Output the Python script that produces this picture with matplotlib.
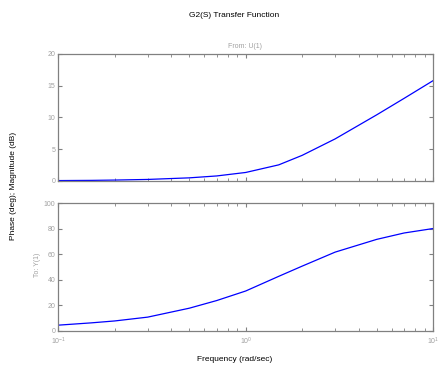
import matplotlib
matplotlib.use('Agg')
import matplotlib.pyplot as plt

plt.rcParams['font.family'] = ['Liberation Sans', 'DejaVu Sans']

frecuencia = [0.1, 0.15, 0.2, 0.3, 0.5, 0.7, 1.0, 1.5, 2.0, 3.0, 5.0, 7.0, 10.0]
magnitud_db = [0.02, 0.05, 0.1, 0.2, 0.45, 0.75, 1.3, 2.5, 4.0, 6.6, 10.4, 13.0, 15.8]
fase_deg = [4.2, 6.0, 7.5, 10.5, 17.5, 23.5, 31.0, 42.5, 50.5, 61.5, 71.5, 76.5, 80.0]

gris = '#808080'
gris_txt = '#a0a0a0'

fig = plt.figure(figsize=(4.38, 3.69), dpi=100)
ax1 = fig.add_axes([0.133, 0.5103, 0.856, 0.3434])
ax2 = fig.add_axes([0.133, 0.1043, 0.856, 0.3455], sharex=ax1)

# Magnitud
ax1.semilogx(frecuencia, magnitud_db, color='b', lw=0.9)
ax1.set_ylim(0, 20)
ax1.set_yticks([0, 5, 10, 15, 20])

# Fase
ax2.semilogx(frecuencia, fase_deg, color='b', lw=0.9)
ax2.set_ylim(0, 100)
ax2.set_yticks([0, 20, 40, 60, 80, 100])
ax2.set_xlim(0.1, 10)

for ax in (ax1, ax2):
    for s in ax.spines.values():
        s.set_color(gris)
        s.set_linewidth(0.9)
    ax.tick_params(which='both', direction='in', top=True, right=True, colors=gris,
                   labelcolor=gris_txt, labelsize=5, pad=2)
    ax.tick_params(which='major', length=3)
    ax.tick_params(which='minor', length=2)

ax1.tick_params(labelbottom=False)
ax2.tick_params(axis='x', pad=4)

fig.text(0.534, 0.959, 'G2(S) Transfer Function', ha='center', va='center', fontsize=6)
fig.text(0.559, 0.874, 'From: U(1)', ha='center', va='center', fontsize=5, color=gris_txt)
fig.text(0.085, 0.282, 'To: Y(1)', ha='center', va='center', fontsize=5, color=gris_txt, rotation=90)
fig.text(0.03, 0.496, 'Phase (deg); Magnitude (dB)', ha='center', va='center', fontsize=6, rotation=90)
fig.text(0.535, 0.025, 'Frequency (rad/sec)', ha='center', va='center', fontsize=6)

plt.savefig('out.png', dpi=100)
